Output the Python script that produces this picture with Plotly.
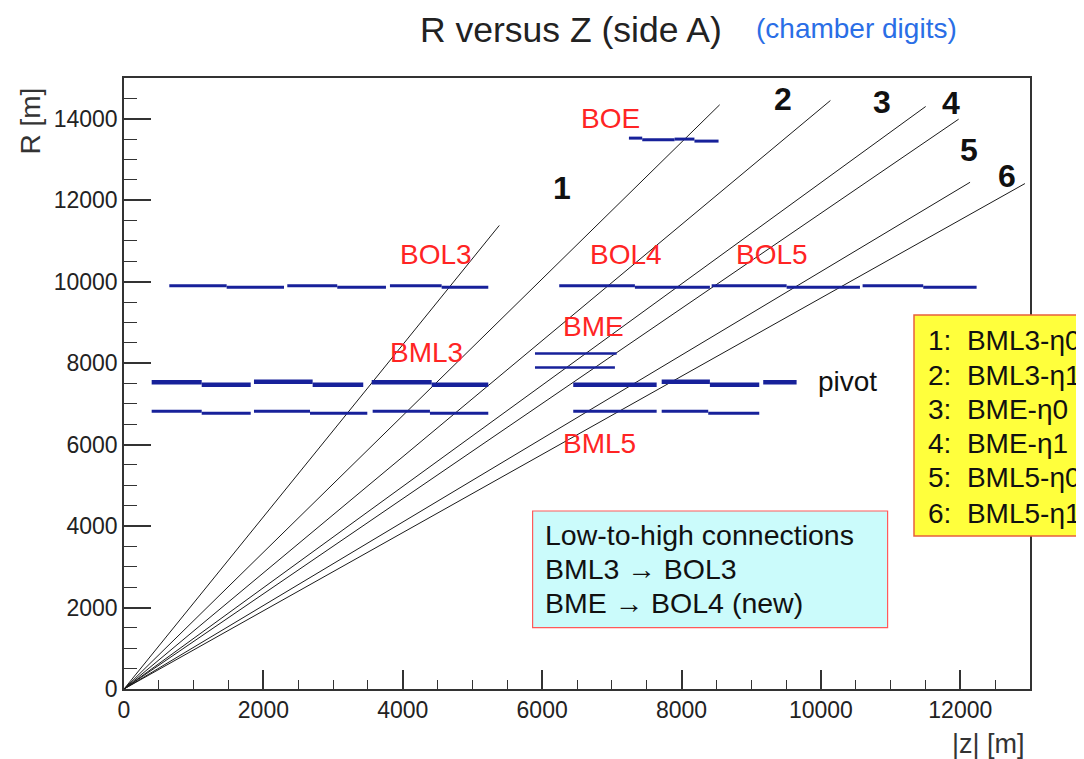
import plotly.graph_objects as go

# ---------------- data ----------------
# straight lines from the origin: end points (|z|, R)
line_end_z = [5385, 8547, 10136, 11503, 11976, 12140, 12927]
line_end_r = [11380, 14342, 14447, 14300, 13989, 12440, 12408]

# BOL row (outer layer)
bol_z0 = [650, 1473, 2343, 3060, 3816, 4558, 6245, 7331, 8432, 9508, 10598, 11468]
bol_z1 = [1473, 2296, 3060, 3759, 4558, 5227, 7331, 8407, 9508, 10560, 11468, 12234]
bol_r = [9900, 9860, 9900, 9860, 9900, 9860, 9900, 9860, 9900, 9860, 9900, 9860]

# BML row (pivot)
bml_z0 = [397, 1115, 1865, 2707, 3554, 4415, 6446, 7715, 8407, 9172]
bml_z1 = [1115, 1818, 2707, 3433, 4415, 5227, 7643, 8407, 9115, 9651]
bml_r = [7528, 7472, 7545, 7472, 7528, 7472, 7472, 7545, 7472, 7528]

# lower middle row
low_z0 = [397, 1115, 1865, 2669, 3568, 4390, 6446, 7715, 8383]
low_z1 = [1115, 1818, 2669, 3491, 4390, 5227, 7643, 8383, 9115]
low_r = [6818, 6769, 6818, 6769, 6818, 6769, 6818, 6818, 6769]

# BME chambers
bme_z0 = [5897, 5897]
bme_z1 = [7069, 7044]
bme_r = [8238, 7895]

# BOE chamber
boe_z0 = [7245, 7436, 7900, 8185]
boe_z1 = [7436, 7900, 8185, 8531]
boe_r = [13524, 13485, 13500, 13451]

# chamber name labels (text, |z|, R)
chamber_names = ["BOE", "BOL3", "BOL4", "BOL5", "BME", "BML3", "BML5"]
chamber_name_z = [6987, 4476, 7202, 9300, 6740, 4347, 6829]
chamber_name_r = [14006, 10678, 10678, 10678, 8890, 8257, 6030]

# line number labels
line_numbers = ["1", "2", "3", "4", "5", "6"]
line_number_z = [6290, 9450, 10875, 11870, 12121, 12663]
line_number_r = [12300, 14479, 14423, 14398, 13240, 12587]

legend_lines = ["1:  BML3-η0", "2:  BML3-η1", "3:  BME-η0",
                "4:  BME-η1", "5:  BML5-η0", "6:  BML5-η1"]
info_lines = ["Low-to-high connections", "BML3 → BOL3", "BME → BOL4 (new)"]

x_ticks = [0, 2000, 4000, 6000, 8000, 10000, 12000]
y_ticks = [0, 2000, 4000, 6000, 8000, 10000, 12000, 14000]

# ---------------- figure ----------------
# page is 1084x759; the page body has an 8 px margin, so the figure is
# shifted by 8 px and made 8 px smaller to keep the plot frame in place
PAGE_W, PAGE_H, OFF = 1084, 759, 8
W, H = PAGE_W - OFF, PAGE_H - OFF
PL, PT, PW, PH = 124, 78, 906, 611          # plot frame in page pixels
ML, MT = PL - OFF, PT - OFF
MR, MB = W - ML - PW, H - MT - PH
FONT = "Liberation Sans, Arial, Helvetica, sans-serif"
BLUE = "#17219a"
RED = "#ff2424"


def px(xp):
    return (xp - PL) / PW


def py(yp):
    return (PT + PH - yp) / PH


fig = go.Figure()

for z, r in zip(line_end_z, line_end_r):
    fig.add_trace(go.Scatter(x=[0, z], y=[0, r], mode="lines",
                             line=dict(color="#1a1a1a", width=1),
                             hoverinfo="skip", showlegend=False))


def seg_trace(z0s, z1s, rs, width):
    xs, ys = [], []
    for a, b, r in zip(z0s, z1s, rs):
        xs += [a, b, None]
        ys += [r, r, None]
    return go.Scatter(x=xs, y=ys, mode="lines",
                      line=dict(color=BLUE, width=width),
                      hoverinfo="skip", showlegend=False)


fig.add_trace(seg_trace(bol_z0, bol_z1, bol_r, 3))
fig.add_trace(seg_trace(bml_z0, bml_z1, bml_r, 4.5))
fig.add_trace(seg_trace(low_z0, low_z1, low_r, 3))
fig.add_trace(seg_trace(bme_z0, bme_z1, bme_r, 2.5))
fig.add_trace(seg_trace(boe_z0, boe_z1, boe_r, 3))

ann = []
for t, z, r in zip(chamber_names, chamber_name_z, chamber_name_r):
    ann.append(dict(x=z, y=r, xref="x", yref="y", text=t, showarrow=False,
                    font=dict(family=FONT, size=28, color=RED)))
ann.append(dict(x=10387, y=7560, xref="x", yref="y", text="pivot", showarrow=False,
                font=dict(family=FONT, size=28, color="#111")))
for t, z, r in zip(line_numbers, line_number_z, line_number_r):
    ann.append(dict(x=z, y=r, xref="x", yref="y", text="<b>" + t + "</b>",
                    showarrow=False, font=dict(family=FONT, size=32, color="#111")))

shapes = [
    dict(type="rect", xref="paper", yref="paper",
         x0=px(532.6), x1=px(887.6), y0=py(627.7), y1=py(511),
         fillcolor="#cbfbfb", line=dict(color="#ff5a5a", width=1.2), layer="above"),
    dict(type="rect", xref="paper", yref="paper",
         x0=px(914), x1=px(1120), y0=py(536), y1=py(315),
         fillcolor="#ffff3c", line=dict(color="#e8603c", width=1.5), layer="above"),
]
for i, t in enumerate(info_lines):
    ann.append(dict(x=px(543), y=py([535, 569, 603][i]), xref="paper", yref="paper",
                    text=t, showarrow=False, xanchor="left", yanchor="middle",
                    font=dict(family=FONT, size=28.5, color="#111")))
for i, t in enumerate(legend_lines):
    ann.append(dict(x=px(926), y=py([340, 375, 409, 443, 478, 513][i]),
                    xref="paper", yref="paper", text=t, showarrow=False,
                    xanchor="left", yanchor="middle",
                    font=dict(family=FONT, size=28, color="#111")))

# titles
ann.append(dict(x=px(571), y=py(30), xref="paper", yref="paper",
                text="R versus Z (side A)", showarrow=False,
                xanchor="center", yanchor="middle",
                font=dict(family=FONT, size=35.5, color="#222")))
ann.append(dict(x=px(856), y=py(29), xref="paper", yref="paper",
                text="(chamber digits)", showarrow=False,
                xanchor="center", yanchor="middle",
                font=dict(family=FONT, size=28, color="#2a6ee6")))
ann.append(dict(x=px(30), y=py(86), xref="paper", yref="paper",
                text="R [m]", showarrow=False, textangle=-90,
                xanchor="center", yanchor="top",
                font=dict(family=FONT, size=28, color="#333")))
ann.append(dict(x=px(1027), y=py(744), xref="paper", yref="paper",
                text="|z| [m]", showarrow=False,
                xanchor="right", yanchor="middle",
                font=dict(family=FONT, size=27, color="#333")))

axis_common = dict(showgrid=False, zeroline=False, showline=True, mirror=True,
                   linecolor="#333", linewidth=1.5, ticks="inside",
                   tickcolor="#333", tickwidth=1.5, tickformat="d",
                   tickfont=dict(family=FONT, size=23, color="#222"))

fig.update_layout(
    width=W, height=H,
    margin=dict(l=ML, r=MR, t=MT, b=MB),
    paper_bgcolor="white", plot_bgcolor="white",
    showlegend=False,
    xaxis=dict(range=[0, 13000], tickvals=x_ticks, ticklen=19,
               minor=dict(ticks="inside", ticklen=9, dtick=500, tick0=0,
                          tickcolor="#333", tickwidth=1.2, showgrid=False),
               **axis_common),
    yaxis=dict(range=[0, 15000], tickvals=y_ticks, ticklen=27,
               minor=dict(ticks="inside", ticklen=13, dtick=500, tick0=0,
                          tickcolor="#333", tickwidth=1.2, showgrid=False),
               **axis_common),
    annotations=ann,
    shapes=shapes,
)

fig.write_html("out.html")
